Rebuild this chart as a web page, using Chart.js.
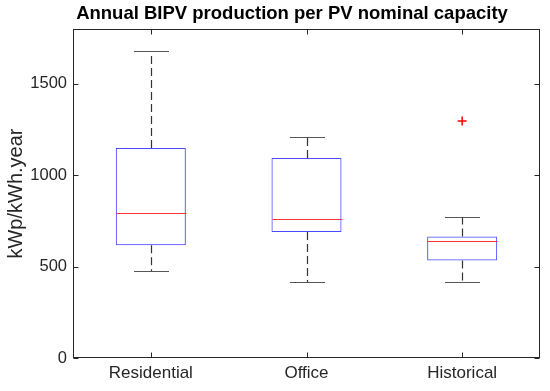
<!DOCTYPE html>
<html>
<head>
<meta charset="utf-8">
<script src="https://cdn.jsdelivr.net/npm/chart.js@4.4.0/dist/chart.umd.min.js"></script>
<style>
  html, body { margin: 0; padding: 0; background: #fff; }
  #wrap { width: 550px; height: 391px; }
</style>
</head>
<body>
<div id="wrap"><canvas id="myChart" width="550" height="391"></canvas></div>
<script>
// Box plot data

const categories = ['Residential', 'Office', 'Historical'];
const whiskerLow = [475, 417, 417];
const q1 = [617, 690, 534];
const median = [791, 763, 638];
const q3 = [1149, 1094, 665];
const whiskerHigh = [1679, 1209, 774];
const outliers = [null, null, 1297];
const yTicks = [0, 500, 1000, 1500];

const axisColor = '#262626';
const font = 'Liberation Sans, Arial, sans-serif';

// draws frame, inward ticks, whiskers, medians and the title
const boxPlugin = {
    id: 'boxExtras',
    afterDatasetsDraw(chart) {
        const ctx = chart.ctx;
        const x = chart.scales.x;
        const y = chart.scales.y;
        const meta = chart.getDatasetMeta(0);
        ctx.save();
        for (let i = 0; i < categories.length; i++) {
            const bar = meta.data[i];
            const cx = Math.round(x.getPixelForValue(i)) + 0.5;
            const half = bar.width / 2;
            const yHi = Math.round(y.getPixelForValue(whiskerHigh[i])) + 0.5;
            const yLo = Math.round(y.getPixelForValue(whiskerLow[i])) + 0.5;
            const yQ1 = y.getPixelForValue(q1[i]);
            const yQ3 = y.getPixelForValue(q3[i]);
            const yMed = Math.round(y.getPixelForValue(median[i])) + 0.5;

            // dashed whiskers
            ctx.strokeStyle = '#333';
            ctx.lineWidth = 1.2;
            ctx.setLineDash([8, 4]);
            ctx.beginPath();
            ctx.moveTo(cx, yQ3); ctx.lineTo(cx, yHi);
            ctx.moveTo(cx, yQ1); ctx.lineTo(cx, yLo);
            ctx.stroke();
            ctx.setLineDash([]);

            // caps
            ctx.strokeStyle = '#555';
            ctx.lineWidth = 1;
            ctx.beginPath();
            ctx.moveTo(cx - half / 2, yHi); ctx.lineTo(cx + half / 2, yHi);
            ctx.moveTo(cx - half / 2, yLo); ctx.lineTo(cx + half / 2, yLo);
            ctx.stroke();

            // median
            ctx.strokeStyle = '#ff3333';
            ctx.beginPath();
            ctx.moveTo(cx - half, yMed); ctx.lineTo(cx + half, yMed);
            ctx.stroke();
        }

        // frame with inward ticks
        const a = chart.chartArea;
        const L = Math.round(a.left) + 0.5, R = Math.round(a.right) - 0.5;
        const T = Math.round(a.top) + 0.5, B = Math.round(a.bottom) - 0.5;
        ctx.strokeStyle = axisColor;
        ctx.lineWidth = 1;
        ctx.strokeRect(L, T, R - L, B - T);
        ctx.beginPath();
        yTicks.forEach(v => {
            const py = Math.round(y.getPixelForValue(v)) + 0.5;
            ctx.moveTo(L, py); ctx.lineTo(L + 5, py);
            ctx.moveTo(R, py); ctx.lineTo(R - 5, py);
        });
        categories.forEach((c, i) => {
            const px = Math.round(x.getPixelForValue(i)) + 0.5;
            ctx.moveTo(px, B); ctx.lineTo(px, B - 5);
            ctx.moveTo(px, T); ctx.lineTo(px, T + 5);
        });
        ctx.stroke();

        // title
        ctx.fillStyle = '#000';
        ctx.font = 'bold 18.5px ' + font;
        ctx.textAlign = 'center';
        ctx.textBaseline = 'middle';
        ctx.fillText('Annual BIPV production per PV nominal capacity', 292, 14);
        ctx.restore();
    }
};

const ctx = document.getElementById('myChart').getContext('2d');
const myChart = new Chart(ctx, {
    type: 'bar',
    data: {
        labels: categories,
        datasets: [{
            label: 'Box',
            data: q1.map((v, i) => [v, q3[i]]),
            backgroundColor: 'rgba(0,0,0,0)',
            borderColor: '#4b4bff',
            borderWidth: 1,
            borderSkipped: false,
            barPercentage: 0.45,
            categoryPercentage: 1
        }, {
            type: 'line',
            label: 'Outliers',
            data: outliers,
            showLine: false,
            pointStyle: 'cross',
            pointRadius: 4.5,
            pointBorderWidth: 1.5,
            borderColor: '#ff0000',
            backgroundColor: '#ff0000'
        }]
    },
    options: {
        responsive: false,
        animation: false,
        layout: { padding: { top: 29, right: 10, left: 0, bottom: 0 } },
        plugins: {
            legend: { display: false },
            tooltip: { enabled: false },
            title: { display: false }
        },
        scales: {
            x: {
                grid: { display: false, drawTicks: false },
                border: { display: false },
                ticks: { color: axisColor, font: { family: font, size: 17 }, padding: 5 },
                afterFit: scale => { scale.height = 33; }
            },
            y: {
                min: 0,
                max: 1800,
                afterBuildTicks: scale => { scale.ticks = yTicks.map(v => ({ value: v })); },
                afterFit: scale => { scale.width = 73; },
                grid: { display: false, drawTicks: false },
                border: { display: false },
                ticks: {
                    color: axisColor,
                    font: { family: font, size: 16.5 },
                    padding: 6,
                    callback: v => String(v)
                },
                title: {
                    display: true,
                    text: 'kWp/kWh.year',
                    color: axisColor,
                    font: { family: font, size: 20 },
                    padding: { top: 4, bottom: 0 }
                }
            }
        }
    },
    plugins: [boxPlugin]
});
</script>
</body>
</html>
